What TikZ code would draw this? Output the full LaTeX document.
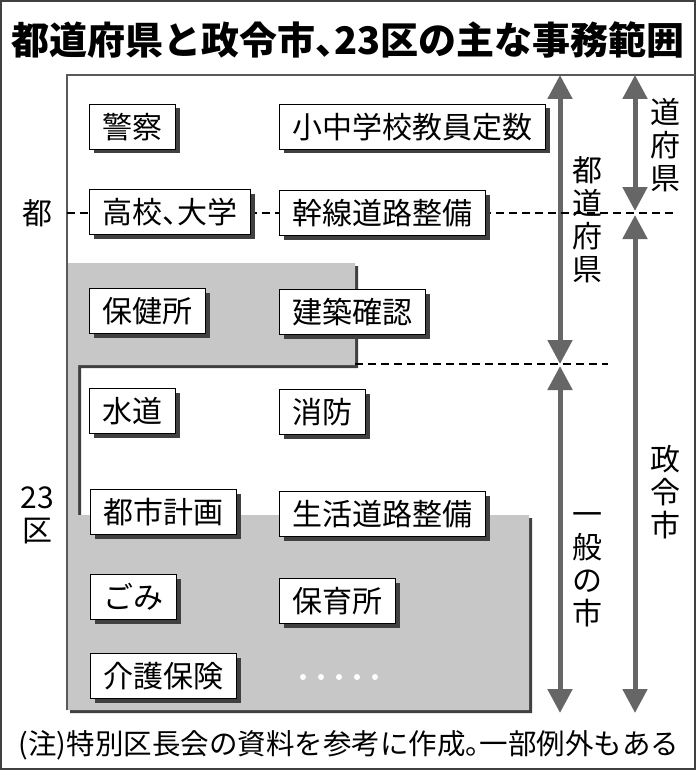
\documentclass[tikz,border=0pt]{standalone}
\usepackage{fontspec}
\setmainfont{Noto Sans CJK JP}
\usetikzlibrary{arrows.meta, shadows}
\newcommand{\hw}[1]{\makebox[.5em][l]{#1}}

\begin{document}
\begin{tikzpicture}[x=1pt, y=-1pt,
  job/.style={draw=black, line width=1pt, fill=white, anchor=west,
    minimum height=45pt, inner xsep=13pt, inner ysep=0pt,
    font=\fontsize{30}{30}\selectfont,
    drop shadow={shadow xshift=4pt, shadow yshift=-4pt, fill=black!75, opacity=1}},
  span/.style={draw=black!60, line width=5pt,
    {Triangle[width=24pt,length=24pt]}-{Triangle[width=24pt,length=24pt]}},
  border/.style={dash pattern=on 8pt off 5pt, line width=1.8pt},
  side/.style={font=\fontsize{30}{33}\selectfont, align=center}]

  \useasboundingbox (0,0) rectangle (696,770);

  % Frame
  \draw[black!75, line width=2pt] (1,1) rectangle (695,769);
  \node[font=\bfseries\fontsize{38}{38}\selectfont] (title) at (348,40)
    {都道府県と政令市\hw{、}23区の主な事務範囲};

  % Shaded area with its shadow
  \fill[black!75, xshift=3pt, yshift=-3pt] (67,263) -- (355,263) -- (355,365)
    -- (78,365) -- (78,515) -- (529,515) -- (529,710) -- (67,710) -- cycle;
  \fill[black!22] (67,263) -- (355,263) -- (355,365) -- (78,365) -- (78,515)
    -- (529,515) -- (529,710) -- (67,710) -- cycle;

  % Panel
  \draw[black!65, line width=1.5pt] (695,75) -- (67,75) -- (67,710);

  % Ranges
  \coordinate (t1) at (560,75);
  \coordinate (b1) at (560,364);
  \coordinate (t2) at (560,366);
  \coordinate (b2) at (560,713);
  \coordinate (t3) at (635,75);
  \coordinate (b3) at (635,211);
  \coordinate (t4) at (635,215);
  \coordinate (b4) at (635,713);
  \draw[span] (t1) -- (b1);
  \draw[span] (t2) -- (b2);
  \draw[span] (t3) -- (b3);
  \draw[span] (t4) -- (b4);

  % Borders
  \coordinate (d1) at (67,213);
  \coordinate (d2) at (675,213);
  \coordinate (d3) at (355,364);
  \coordinate (d4) at (608,364);
  \draw[border] (d1) -- (d2);
  \draw[border] (d3) -- (d4);

  % Tasks
  \node[job] (police) at (89,127) {警察};
  \node[job] (teacher) at (279,127) {小中学校教員定数};
  \node[job] (school) at (89,212) {高校\hw{、}大学};
  \node[job] (mainroad) at (279,213) {幹線道路整備};
  \node[job] (health) at (89,311) {保健所};
  \node[job] (build) at (279,312) {建築確認};
  \node[job] (water) at (89,411) {水道};
  \node[job] (fire) at (279,412) {消防};
  \node[job] (plan) at (90,512) {都市計画};
  \node[job] (road) at (279,514) {生活道路整備};
  \node[job] (waste) at (90,597) {ごみ};
  \node[job] (nursery) at (279,601) {保育所};
  \node[job] (care) at (90,676) {介護保険};
  \foreach \x in {303,321,339,357,375}
    \fill[white] (\x,677) circle (3pt);

  % Labels
  \node[side] (to) at (37,213) {都};
  \node[side] (ku) at (37,515) {23\\区};
  \node[side] (pref) at (587,220) {都\\道\\府\\県};
  \node[side] (pref2) at (665,145) {道\\府\\県};
  \node[side] (city) at (587,570) {一\\般\\の\\市};
  \node[side] (seirei) at (665,492) {政\\令\\市};
  \node[font=\fontsize{28.5}{28.5}\selectfont] (note) at (349,745)
    {(注)特別区長会の資料を参考に作成\hw{。}一部例外もある};

\end{tikzpicture}
\end{document}
